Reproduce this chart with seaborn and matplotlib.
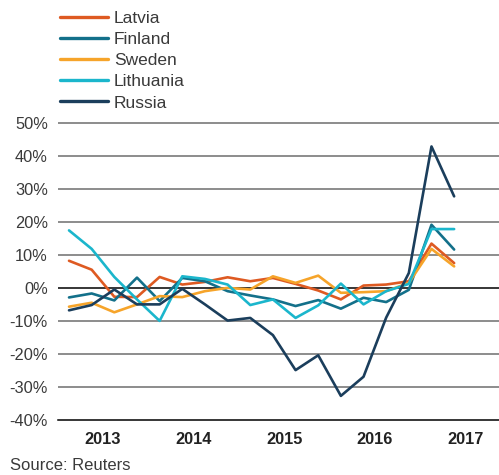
import pandas as pd
import seaborn as sns
import matplotlib.pyplot as plt
from matplotlib.ticker import FixedLocator, NullFormatter

# Quarterly values (percent change)
quarters = ['2013Q1', '2013Q2', '2013Q3', '2013Q4', '2014Q1', '2014Q2', '2014Q3', '2014Q4',
            '2015Q1', '2015Q2', '2015Q3', '2015Q4', '2016Q1', '2016Q2', '2016Q3', '2016Q4',
            '2017Q1', '2017Q2']
latvia = [8.2, 5.5, -2.7, -2.8, 3.3, 1.0, 1.8, 3.2, 2.0, 3.0, 1.2, -0.8, -3.5, 0.7, 1.0, 2.0, 13.4, 7.5]
finland = [-2.9, -1.7, -3.8, 3.1, -4.0, 3.0, 2.0, -1.0, -2.3, -3.5, -5.5, -3.7, -6.3, -3.0, -4.3, -0.6, 19.1, 11.6]
sweden = [-5.7, -4.5, -7.4, -5.0, -2.5, -2.8, -1.0, 0.0, -0.5, 3.5, 1.5, 3.7, -1.5, -1.3, -1.0, 1.5, 11.8, 6.5]
lithuania = [17.4, 11.8, 3.3, -3.5, -10.0, 3.5, 2.7, 1.0, -5.2, -3.5, -9.1, -5.3, 1.3, -5.0, -1.0, 1.2, 17.8, 17.8]
russia = [-6.8, -5.2, -0.5, -5.0, -5.0, -0.3, -5.0, -9.9, -9.1, -14.3, -24.9, -20.4, -32.7, -26.9, -9.0, 4.5, 42.8, 27.7]

countries = ['Latvia', 'Finland', 'Sweden', 'Lithuania', 'Russia']
colors = ['#de5a22', '#13708a', '#f6a42a', '#1bb6cc', '#1b3e5c']
years = [2013, 2014, 2015, 2016, 2017]
yticks = [-40, -30, -20, -10, 0, 10, 20, 30, 40, 50]


def main():
    sns.set_style('white')
    plt.rcParams['font.family'] = ['Liberation Sans', 'DejaVu Sans']

    # quarter -> position in years (middle of the quarter)
    per = pd.PeriodIndex(quarters, freq='Q')
    xpos = per.year + (per.quarter - 0.5) / 4

    series = dict(zip(countries, [latvia, finland, sweden, lithuania, russia]))
    df = pd.concat([pd.DataFrame({'x': xpos, 'value': v, 'country': c})
                    for c, v in series.items()], ignore_index=True)

    fig = plt.figure(figsize=(4.99, 4.75), dpi=100)
    ax = fig.add_axes([0.1156, 0.1158, 0.8844, 0.6398])

    for y in yticks[1:]:
        ax.axhline(y, color='black' if y == 0 else '#6e6e6e', lw=1.1, zorder=1)

    sns.lineplot(data=df, x='x', y='value', hue='country', hue_order=countries,
                 palette=dict(zip(countries, colors)), linewidth=1.9, ax=ax,
                 legend=False, zorder=3)

    ax.set_xlim(2013, 2017.87)
    ax.set_ylim(-40, 52)
    ax.set_xlabel('')
    ax.set_ylabel('')

    ax.set_yticks(yticks)
    ax.set_yticklabels([f'{v}%' for v in yticks])
    ax.tick_params(axis='y', length=0, pad=7, labelsize=11.8, labelcolor='#3a3a3a')

    ax.xaxis.set_major_locator(FixedLocator(years))
    ax.xaxis.set_major_formatter(NullFormatter())
    ax.xaxis.set_minor_locator(FixedLocator([y + 0.5 for y in years]))
    ax.set_xticklabels([str(y) for y in years], minor=True)
    ax.tick_params(axis='x', which='major', direction='in', length=6, width=1, color='black')
    ax.tick_params(axis='x', which='minor', length=0, pad=8.5, labelsize=11.8)
    for lab in ax.get_xticklabels(minor=True):
        lab.set_fontweight('bold')
        lab.set_color('#222222')

    for s in ['top', 'right', 'left']:
        ax.spines[s].set_visible(False)
    ax.spines['bottom'].set_color('black')
    ax.spines['bottom'].set_linewidth(1.1)

    handles = [plt.Line2D([], [], color=c, lw=2.4) for c in colors]
    leg = fig.legend(handles, countries, loc='upper left', bbox_to_anchor=(0.12, 0.978),
                     frameon=False, fontsize=12.5, handlelength=2.76, handletextpad=0.35,
                     labelspacing=0.35, borderpad=0, borderaxespad=0)
    for t in leg.get_texts():
        t.set_color('#3a3a3a')

    fig.text(0.02, 0.0196, 'Source: Reuters', fontsize=12, color='#3a3a3a', va='center')

    fig.savefig('out.png', dpi=100)


if __name__ == "__main__":
    main()
